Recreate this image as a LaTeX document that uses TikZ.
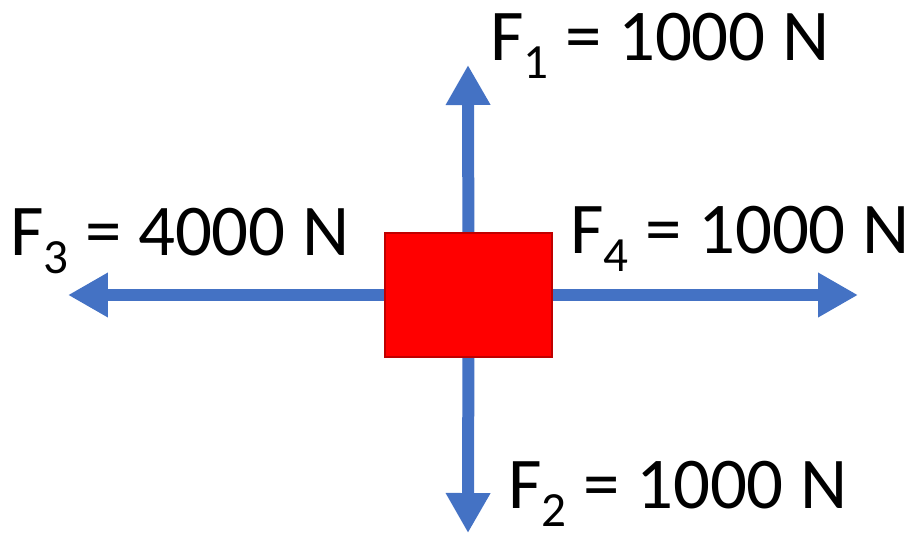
\documentclass[tikz,border=0pt]{standalone}
\usepackage{fontspec}
\setmainfont{Carlito}
\usepackage{tikz}
\usetikzlibrary{arrows.meta,positioning}
\definecolor{forceBlue}{RGB}{68,114,196}
\definecolor{boxRed}{RGB}{255,0,0}
\tikzset{
  massbox/.style={
    rectangle, draw=boxRed!75!black, line width=0.6pt, fill=boxRed,
    minimum width=3.34cm, minimum height=2.48cm, inner sep=0pt
  },
  forcearr/.style={
    -{Triangle[length=0.8cm,width=0.84cm]}, line width=0.24cm, draw=forceBlue
  },
  flabel/.style={
    anchor=base west, inner sep=0pt, text=black,
    font=\fontsize{41.5}{48}\selectfont
  },
}
\newcommand{\fsub}[1]{\raisebox{-0.25em}{\fontsize{28}{30}\selectfont #1}}
\begin{document}
\begin{tikzpicture}[x=0.02cm, y=-0.02cm]
  \useasboundingbox (0,0) rectangle (916,541);

  \coordinate (tipup)    at (468, 65);
  \coordinate (tipdown)  at (468, 533);
  \coordinate (tipleft)  at (68, 295);
  \coordinate (tipright) at (858, 295);

  % forces first, box on top
  \draw[forcearr] (468.5,295) -- (tipup);
  \draw[forcearr] (468.5,295) -- (tipdown);
  \draw[forcearr] (468.5,295) -- (tipleft);
  \draw[forcearr] (468.5,295) -- (tipright);

  \node[massbox] (mass) at (468.5,295) {};

  \node[flabel] (fone)   at (490, 60)  {F\fsub{1} = 1000 N};
  \node[flabel] (ftwo)   at (508, 508) {F\fsub{2} = 1000 N};
  \node[flabel] (fthree) at (10, 255)  {F\fsub{3} = 4000 N};
  \node[flabel] (ffour)  at (570, 253) {F\fsub{4} = 1000 N};
\end{tikzpicture}
\end{document}
